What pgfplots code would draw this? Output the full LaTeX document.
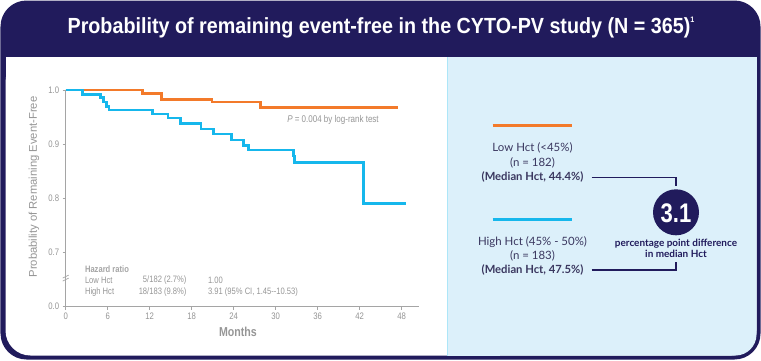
\documentclass[border=0pt]{standalone}
\usepackage{pgfplots}
\pgfplotsset{compat=1.18}
\usepackage{fontspec}
\setmainfont{Liberation Sans}
\newfontfamily\narrow{Liberation Sans}[FakeStretch=0.82]
\newfontfamily\titlefont{Liberation Sans}[FakeStretch=0.9]
\newfontfamily\lato{Lato}
\definecolor{navy}{RGB}{33,27,92}
\definecolor{lowc}{RGB}{243,122,42}
\definecolor{highc}{RGB}{22,183,236}
\definecolor{panel}{RGB}{220,240,250}
\definecolor{axgray}{RGB}{165,165,165}
\definecolor{txtgray}{RGB}{150,150,150}
\definecolor{txt}{RGB}{58,55,95}

\pgfplotstableread{
x y
0 1.0
11.0 0.994
13.7 0.983
20.9 0.978
27.8 0.968
47.5 0.968
}\lowhct

\pgfplotstableread{
x y
0 1.0
2.4 0.992
5.0 0.986
5.4 0.978
5.8 0.970
6.2 0.963
12.4 0.956
14.6 0.948
16.4 0.938
19.3 0.928
21.1 0.919
23.7 0.908
25.4 0.898
26.1 0.889
32.5 0.878
32.7 0.866
42.5 0.791
48.6 0.791
}\highhct

\begin{document}
\begin{tikzpicture}[x=1bp,y=-1bp]
\path[use as bounding box] (0,0) rectangle (761,360);
% frame
\fill[navy, rounded corners=26bp] (0.5,0.5) rectangle (760.5,359.5);
\fill[white, rounded corners=25bp] (5.5,57) rectangle (756.5,355.5);
\fill[white] (5.5,57) rectangle (756.5,100);
\fill[panel, rounded corners=21bp] (447,57) rectangle (756.5,355.5);
\fill[panel] (447,57) rectangle (756.5,100);
\fill[panel] (447,57) rectangle (500,355.5);
\draw[highc!35, line width=0.6bp] (447,57) -- (447,355.5);
% title
\node[white, font=\titlefont\bfseries\fontsize{22}{24}\selectfont] at (381,28)
  {Probability of remaining event-free in the CYTO-PV study (N = 365)\raisebox{0.5em}{\fontsize{8}{8}\selectfont 1}};

\begin{axis}[
  at={(65.7bp,-306.7bp)}, anchor=south west,
  scale only axis, width=353.5bp, height=216.7bp,
  xmin=0, xmax=50.5, ymin=0.6, ymax=1.0,
  axis lines*=left,
  axis line style={-, axgray, line width=1.1bp},
  xtick={0,6,12,18,24,30,36,42,48},
  ytick={0.6,0.7,0.8,0.9,1.0},
  yticklabels={0.0,0.7,0.8,0.9,1.0},
  tick align=outside, major tick length=3bp,
  tick style={axgray, line width=0.8bp},
  /pgf/number format/assume math mode=true,
  tick label style={font=\narrow\fontsize{9.5}{10}\selectfont, txtgray},
  clip=false,
]
\addplot[const plot, lowc, line width=2.6bp] table[x=x,y=y] {\lowhct};
\addplot[const plot, highc, line width=2.6bp] table[x=x,y=y] {\highhct};
% axis break
\fill[white] (axis cs:0,0.650) ++(-3bp,0) rectangle ++(6bp,3bp);
\draw[axgray, line width=0.7bp] (axis cs:0,0.650) ++(-3bp,-1.5bp) -- ++(6bp,3bp);
\draw[axgray, line width=0.7bp] (axis cs:0,0.650) ++(-3bp,1.5bp) -- ++(6bp,3bp);
\end{axis}

% y label
\node[rotate=90, txtgray, font=\fontsize{11.3}{13}\selectfont] at (34,187) {Probability of Remaining Event-Free};
% x label
\node[txtgray, font=\narrow\bfseries\fontsize{13}{15}\selectfont] at (238,331.5) {Months};
% p-value
\node[txtgray, font=\narrow\fontsize{9.8}{11}\selectfont] at (333,120) {\textit{P} = 0.004 by log-rank test};
% hazard table
\begin{scope}[font=\narrow\fontsize{9.3}{10}\selectfont]
\node[anchor=west, txtgray!110!black, font=\narrow\bfseries\fontsize{9.3}{10}\selectfont] at (81.5,269) {Hazard ratio};
\node[anchor=west, txtgray] at (81.5,280) {Low Hct};
\node[anchor=west, txtgray] at (81.5,291.7) {High Hct};
\node[anchor=east, txtgray] at (190,280) {5/182 (2.7\%)};
\node[anchor=east, txtgray] at (190,291.7) {18/183 (9.8\%)};
\node[anchor=west, txtgray] at (204.5,280) {1.00};
\node[anchor=west, txtgray] at (204.5,291.7) {3.91 (95\% CI, 1.45--10.53)};
\end{scope}

% right panel legend
\draw[lowc, line width=2.5bp] (492.7,125.7) -- (571.7,125.7);
\draw[highc, line width=2.5bp] (492.7,219.3) -- (571.7,219.3);
\begin{scope}[font=\lato\fontsize{11.5}{13}\selectfont, text=txt]
\node at (532.5,148.3) {Low Hct (<45\%)};
\node at (532.5,162.7) {(n = 182)};
\node[font=\lato\bfseries\fontsize{11.3}{13}\selectfont] at (532.5,177.3) {(Median Hct, 44.4\%)};
\node at (532.5,242.3) {High Hct (45\% - 50\%)};
\node at (532.5,256) {(n = 183)};
\node[font=\lato\bfseries\fontsize{11.3}{13}\selectfont] at (532.5,270) {(Median Hct, 47.5\%)};
\end{scope}
\draw[navy, line width=1.1bp] (591.7,177.3) -- (676,177.3) -- (676,186);
\draw[navy, line width=1.1bp] (591.7,270) -- (676,270) -- (676,261.7);
\fill[navy] (676,212.3) circle[radius=23bp];
\node[white, font=\narrow\bfseries\fontsize{27}{28}\selectfont] at (676,212.8) {3.1};
\node[navy, font=\lato\bfseries\fontsize{10}{11}\selectfont] at (676,243.3) {percentage point difference};
\node[navy, font=\lato\bfseries\fontsize{10}{11}\selectfont] at (676,254) {in median Hct};
\end{tikzpicture}
\end{document}
